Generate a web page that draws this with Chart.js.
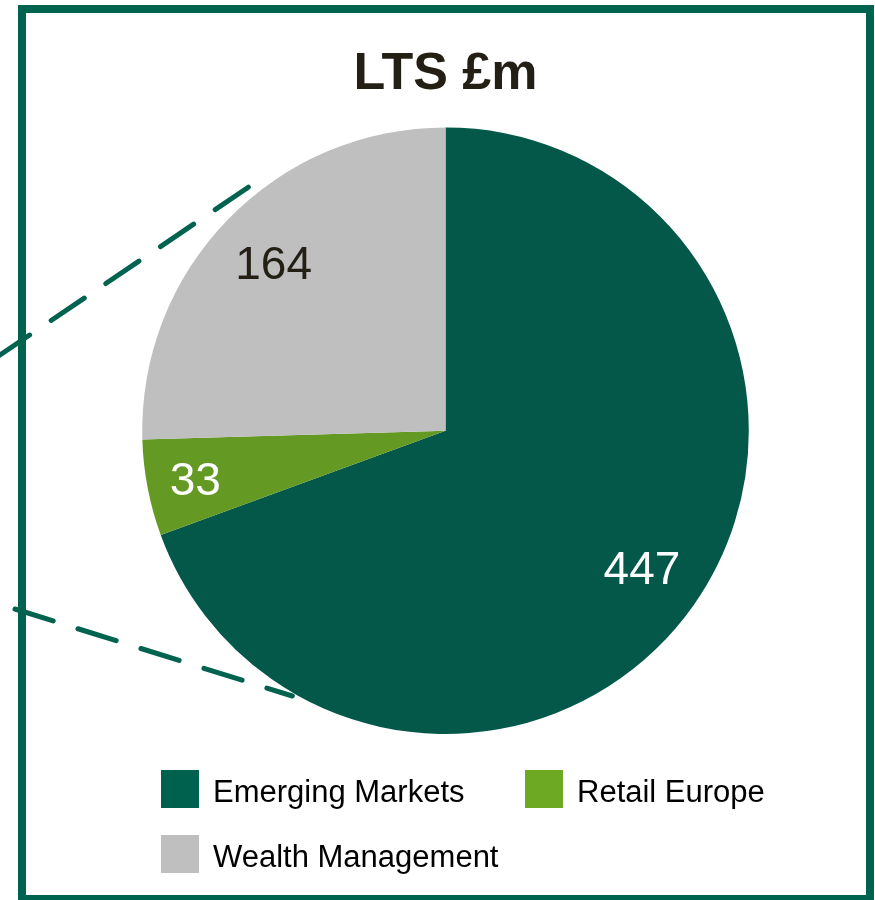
<!DOCTYPE html>
<html>
<head>
<meta charset="utf-8">
<title>LTS £m</title>
<script src="https://cdn.jsdelivr.net/npm/chart.js@4.4.0/dist/chart.umd.min.js"></script>
<style>
    body {
        margin: 0;
        width: 875px;
        height: 900px;
        overflow: hidden;
        background: #ffffff;
        font-family: 'Liberation Sans', Arial, sans-serif;
    }
    #frame {
        position: absolute;
        left: 18px;
        top: 5px;
        width: 856px;
        height: 898px;
        box-sizing: border-box;
        border: 8px solid #00634f;
    }
    #chart {
        position: absolute;
        left: 0;
        top: 0;
    }
    #legend {
        position: absolute;
        left: 161px;
        top: 770px;
        display: grid;
        grid-template-columns: 364px 300px;
        row-gap: 27px;
    }
    .legend-item {
        display: flex;
        align-items: center;
        height: 38px;
        font-size: 31px;
        color: #000000;
        white-space: nowrap;
    }
    .legend-box {
        width: 38px;
        height: 38px;
        margin-right: 14px;
        flex: none;
    }
    .legend-text {
        position: relative;
        top: 3px;
    }
</style>
</head>
<body>
<div id="frame"></div>
<canvas id="chart" width="875" height="900"></canvas>
<div id="legend"></div>
<script>
const categories = ['Emerging Markets', 'Retail Europe', 'Wealth Management'];
const values = [447, 33, 164];
const titleText = 'LTS £m';

const sliceColors = ['#03584a', '#649a23', '#bfbfbf'];
const legendColors = ['#00614e', '#6ea924', '#bfbfbf'];
const labelColors = ['#ffffff', '#ffffff', '#231f14'];
const lineColor = '#00634f';

Chart.defaults.font.family = "'Liberation Sans', Arial, sans-serif";

// dashed callout lines coming in from the left edge
const calloutLines = {
    id: 'calloutLines',
    beforeDatasetsDraw (chart) {
        const arc = chart.getDatasetMeta(0).data[0];
        const cx = arc.x;
        const cy = arc.y;
        const r = arc.outerRadius;
        const ctx = chart.ctx;

        function onCircle (deg, k) {
            const a = deg * Math.PI / 180;
            return [cx + Math.sin(a) * r * k, cy - Math.cos(a) * r * k];
        }

        const upperEnd = onCircle(321, 1.033);
        const lowerEnd = onCircle(210, 1.01);

        ctx.save();
        ctx.strokeStyle = lineColor;
        ctx.lineWidth = 5;
        ctx.lineCap = 'round';
        ctx.setLineDash([40, 26]);

        ctx.beginPath();
        ctx.moveTo(upperEnd[0], upperEnd[1]);
        ctx.lineTo(0, 355);
        ctx.stroke();

        ctx.beginPath();
        ctx.moveTo(15, 609);
        ctx.lineTo(lowerEnd[0], lowerEnd[1]);
        ctx.stroke();
        ctx.restore();
    }
};

// value labels inside the slices
const sliceLabels = {
    id: 'sliceLabels',
    afterDatasetsDraw (chart) {
        const ctx = chart.ctx;
        const meta = chart.getDatasetMeta(0);
        ctx.save();
        ctx.font = "46px 'Liberation Sans', Arial, sans-serif";
        ctx.textAlign = 'center';
        ctx.textBaseline = 'middle';
        meta.data.forEach((arc, i) => {
            const mid = (arc.startAngle + arc.endAngle) / 2;
            // the thin slice keeps its label nearer the rim
            const dist = arc.outerRadius * (values[i] < 50 ? 0.84 : 0.79);
            ctx.fillStyle = labelColors[i];
            ctx.fillText(String(values[i]), arc.x + Math.cos(mid) * dist, arc.y + Math.sin(mid) * dist + 3);
        });
        ctx.restore();
    }
};

const htmlLegend = {
    id: 'htmlLegend',
    afterUpdate (chart) {
        const legendDiv = document.querySelector('#legend');
        legendDiv.innerHTML = "";
        chart.data.labels.forEach((label, i) => {
            const item = document.createElement('div');
            item.className = 'legend-item';
            const box = document.createElement('span');
            box.className = 'legend-box';
            box.style.backgroundColor = legendColors[i];
            const text = document.createElement('span');
            text.className = 'legend-text';
            text.textContent = label;
            item.appendChild(box);
            item.appendChild(text);
            legendDiv.appendChild(item);
        });
    }
};

function createChart () {
    const ctx = document.querySelector('#chart').getContext('2d');
    return new Chart(ctx, {
        type: 'pie',
        data: {
            labels: categories,
            datasets: [{
                data: values,
                backgroundColor: sliceColors,
                borderWidth: 0
            }]
        },
        options: {
            responsive: false,
            animation: false,
            layout: {
                padding: { left: 142, right: 126, top: 0, bottom: 166 }
            },
            plugins: {
                title: {
                    display: true,
                    text: titleText,
                    color: '#231f14',
                    font: { size: 52, weight: 'bold' },
                    padding: { top: 43, bottom: 22 }
                },
                legend: { display: false },
                tooltip: { enabled: false }
            }
        },
        plugins: [calloutLines, sliceLabels, htmlLegend]
    });
}

createChart();
</script>
</body>
</html>
